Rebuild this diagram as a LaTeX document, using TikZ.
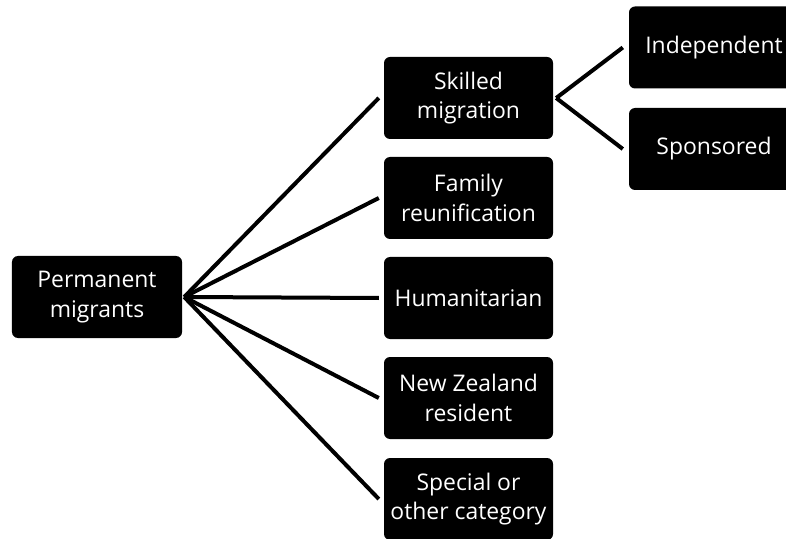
\documentclass[tikz,border=0pt]{standalone}
\usepackage{fontspec}
\setmainfont{Open Sans}
\begin{document}
\begin{tikzpicture}[x=1bp,y=-1bp,
  box/.style={fill=black,draw=none,rounded corners=6bp,text=white,align=center,
    minimum width=170bp,minimum height=82bp,inner sep=0pt,
    font=\fontsize{23}{30}\selectfont},
  conn/.style={line width=4bp,draw=black}]
\useasboundingbox (0,0) rectangle (786,539);
\clip (0,0) rectangle (786,539);
\node[box] (perm) at (97,297) {Permanent\\migrants};
\node[box,minimum width=169bp] (skilled) at (468.5,98) {Skilled\\migration};
\node[box,minimum width=169bp] (family) at (468.5,198) {Family\\reunification};
\node[box,minimum width=169bp] (human) at (468.5,298) {Humanitarian};
\node[box,minimum width=169bp] (nz) at (468.5,398) {New Zealand\\resident};
\node[box,minimum width=169bp] (special) at (468.5,499) {Special or\\other category};
\node[box] (indep) at (714,47.5) {Independent};
\node[box] (spons) at (714,149) {Sponsored};
\coordinate (hub) at ([xshift=2bp]perm.east);
\foreach \t in {skilled,family,human,nz,special}
  \draw[conn] (hub) -- ([xshift=-5bp]\t.west);
\coordinate (hub2) at ([xshift=3bp]skilled.east);
\draw[conn] (hub2) -- ([xshift=-6bp]indep.west);
\draw[conn] (hub2) -- ([xshift=-6bp]spons.west);
\end{tikzpicture}
\end{document}
